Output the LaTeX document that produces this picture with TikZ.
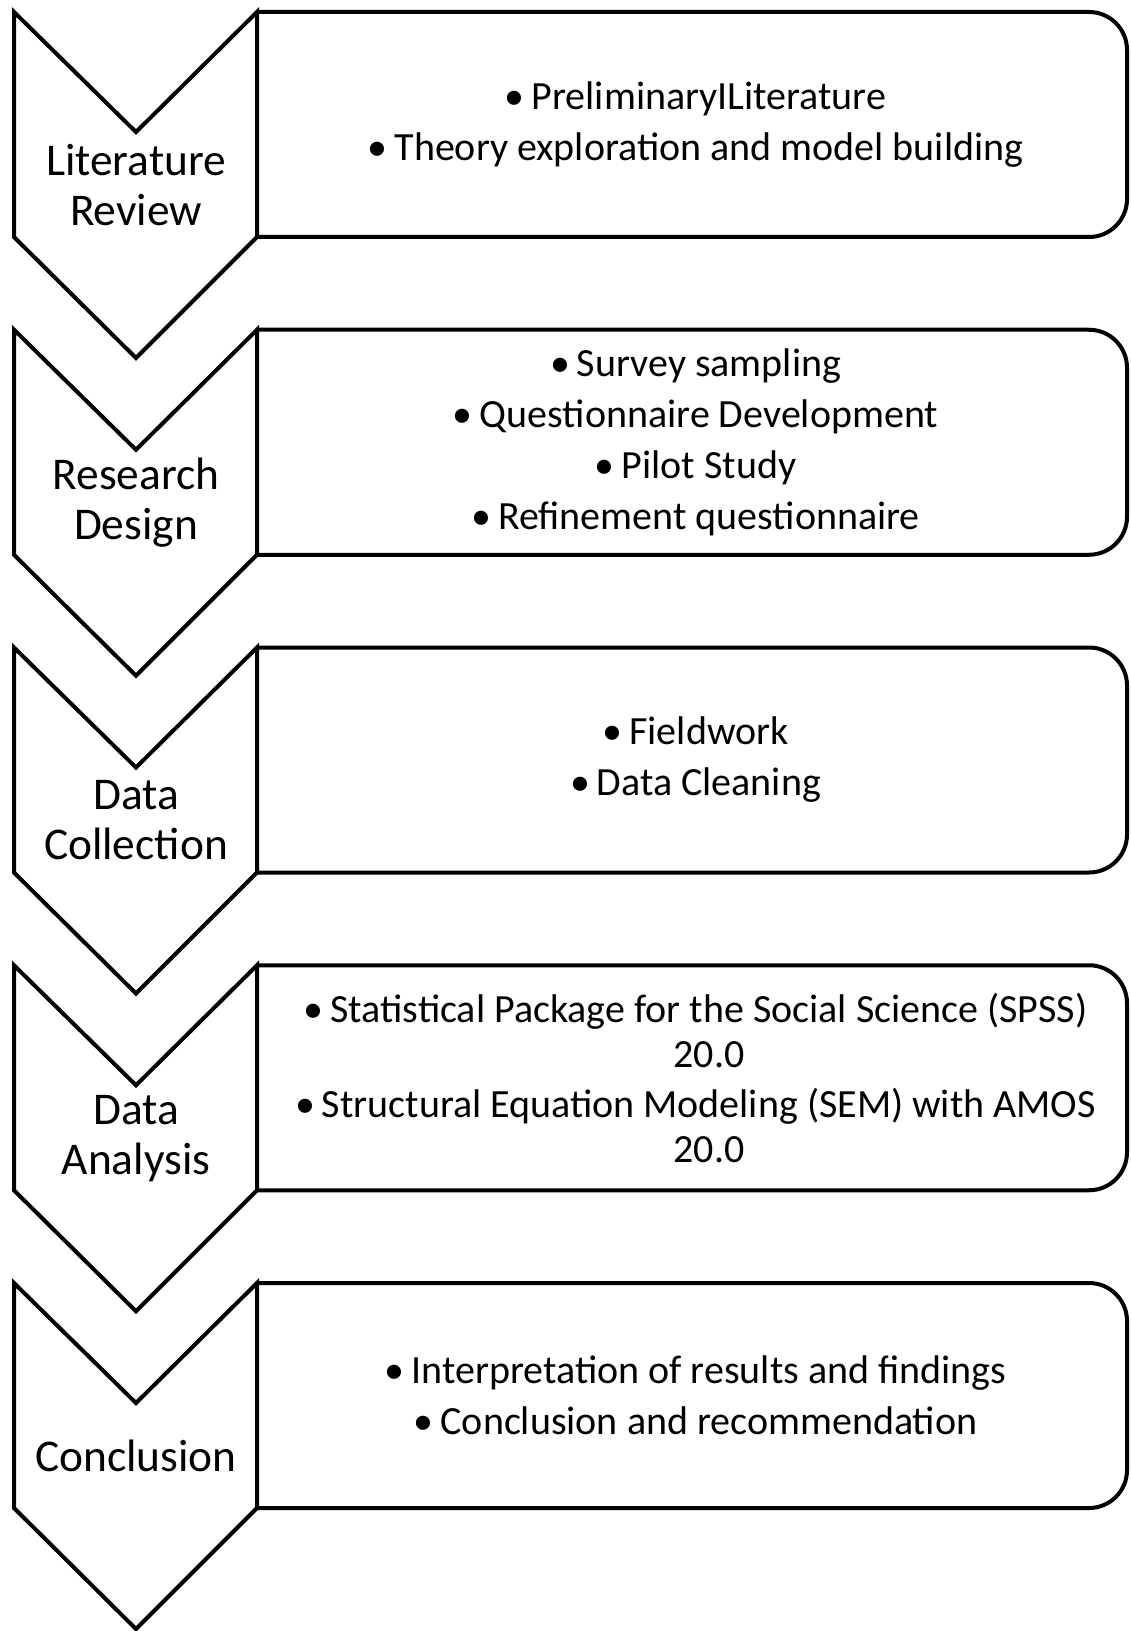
\documentclass[tikz,border=0pt]{standalone}
\usepackage{fontspec}
\setmainfont{Carlito}
\newcommand\bul{\llap{\textbullet\hspace{3.5pt}}}
% one stage: chevron with its label, and the rounded box with its items
% #1 extra item style, #2 index, #3 name, #4 label, #5 items
\newcommand\stage[5][]{%
  \pgfmathsetmacro\T{12+317.75*#2}%
  \draw[outline] (14,\T) -- (136,\T+120) -- (257,\T) -- (257,\T+225)
    -- (136,\T+346) -- (14,\T+225) -- cycle;
  \draw[outline, fill=none, rounded corners=19pt] (257,\T) -- (1127,\T)
    -- (1127,\T+225) -- (257,\T+225);
  \node[steplabel] (#3-label) at (136,\T+173) {#4};
  \node[itemtext,#1] (#3-items) at (709,\T+112.5) {#5};
}
\begin{document}
\begin{tikzpicture}[x=0.5pt,y=-0.5pt,
  outline/.style={line width=2pt, draw=black, fill=white, line join=miter},
  steplabel/.style={align=center, inner sep=0pt,
    font=\fontsize{22.7}{25}\selectfont},
  itemtext/.style={align=center, inner sep=0pt,
    font=\fontsize{20}{25.5}\selectfont},
  wrapped/.style={font=\fontsize{20}{22.4}\selectfont}]
\useasboundingbox (0,0) rectangle (1130,1631);
\fill[white] (0,0) rectangle (1130,1631);

\stage{0}{review}{Literature\\Review}
  {\bul PreliminaryILiterature\\\bul Theory exploration and model building}
\stage{1}{design}{Research\\Design}
  {\bul Survey sampling\\\bul Questionnaire Development\\\bul Pilot Study\\\bul Refinement questionnaire}
\stage{2}{collection}{Data\\Collection}
  {\bul Fieldwork\\\bul Data Cleaning}
\stage[wrapped]{3}{analysis}{Data\\Analysis}
  {\bul Statistical Package for the Social Science (SPSS)\\20.0\\[2.6pt]
   \bul Structural Equation Modeling (SEM) with AMOS\\20.0}
\stage{4}{conclusion}{Conclusion}
  {\bul Interpretation of results and findings\\\bul Conclusion and recommendation}
\end{tikzpicture}
\end{document}
